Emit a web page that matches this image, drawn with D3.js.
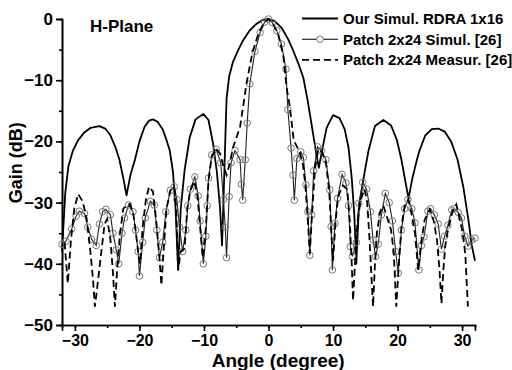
<!DOCTYPE html>
<html>
<head>
<meta charset="utf-8">
<script src="https://cdn.jsdelivr.net/npm/d3@7"></script>
<style>
    body { margin: 0; background: #fff; }
    svg { display: block; font-family: 'Liberation Sans', Arial, sans-serif; font-weight: bold; }
</style>
</head>
<body>
<svg></svg>
<script>
// series values: [angle (deg), gain (dB)]
var rdraData = [
    [-32, -38], [-31.5, -28.5], [-31, -24], [-30.3, -21.5], [-29.5, -19.8], [-28.6, -18.6], [-27.6, -17.8],
    [-26.2, -17.5], [-25.3, -17.9], [-24.5, -19], [-23.7, -21], [-23.1, -23], [-22.5, -26], [-22, -28.8],
    [-21.4, -25.5], [-20.7, -23], [-20, -20], [-19.2, -17.6], [-18.5, -16.6], [-17.9, -16.4], [-17.2, -16.8],
    [-16.4, -18], [-15.8, -19.8], [-15.3, -21.5], [-14.8, -25], [-14.4, -31], [-14, -41], [-13.6, -31],
    [-13, -24.7], [-12.2, -19.3], [-11.3, -16.4], [-10.1, -15.5], [-9.3, -16.5], [-8.6, -20.3], [-8, -25],
    [-7.5, -31], [-7.2, -37], [-6.9, -27], [-6.5, -13], [-6.1, -9.4], [-5.5, -7], [-4.7, -5.1], [-4, -3.6],
    [-3, -2], [-2, -0.9], [-1, -0.2], [0, 0], [1, -0.4], [2, -1.4], [3, -3.2], [3.8, -5.1], [4.6, -7.2],
    [5.4, -9.6], [6.1, -13.5], [6.9, -18.7], [7.4, -22], [7.8, -24.3], [8.3, -21.5], [9, -17.8], [10, -15.7],
    [11, -16.2], [11.8, -18], [12.4, -21], [12.9, -26], [13.3, -32], [13.6, -40], [14, -31], [14.5, -27.5],
    [14.9, -25], [15.5, -21.5], [16.5, -17.5], [17.8, -16.5], [19, -17.4], [19.9, -19.8], [20.6, -23],
    [21.2, -26.5], [21.7, -29.3], [22.3, -26], [23, -23], [23.4, -21.5], [24.3, -19], [25.3, -18],
    [26.3, -17.9], [27.3, -18.4], [28.3, -20], [29.3, -23], [30.2, -27.5], [31, -33], [31.5, -37], [32, -39.5]
]

var patchSimData = [
    [-32, -36.8], [-31.4, -36.3], [-30.5, -34.3], [-29.8, -32.2], [-29.3, -31.4], [-28.5, -31.8], [-28, -34],
    [-27.4, -36], [-26.7, -37], [-26.2, -33.5], [-25.7, -31.5], [-25.2, -31.1], [-24.5, -32], [-24.1, -35],
    [-23.6, -37.7], [-23.2, -40], [-22.7, -35], [-22.3, -32.5], [-21.7, -30.4], [-21, -31.5], [-20.6, -34.5],
    [-20.2, -38], [-20, -42], [-19.5, -36.5], [-19.1, -32.5], [-18.3, -29.8], [-17.7, -30.4], [-17.3, -34.5],
    [-16.9, -39], [-16.4, -36.5], [-15.9, -31.5], [-15.2, -28], [-14.6, -27.4], [-14.2, -29.5], [-13.8, -34],
    [-13.3, -38], [-12.8, -34.5], [-12.5, -30.5], [-12.1, -27.8], [-11.4, -25.8], [-10.9, -28.9], [-10.6, -33],
    [-10.1, -40], [-9.7, -35.5], [-9.5, -30.5], [-9.3, -26], [-8.8, -22.2], [-8.1, -21.3], [-7.4, -23.5],
    [-7, -29.5], [-6.7, -34], [-6.5, -39], [-6.1, -29], [-5.8, -23.5], [-5.2, -21.5], [-4.4, -23], [-4.2, -27],
    [-4, -29.6], [-3.6, -23], [-3.3, -17], [-2.9, -10.6], [-2.1, -5.3], [-1.3, -2.2], [-0.6, -0.5], [0, 0],
    [0.6, -0.6], [1.3, -1.9], [2, -4.1], [2.7, -8.2], [3, -14.8], [3.5, -21.1], [3.8, -25.5], [4, -29.6],
    [4.4, -22.8], [5, -21.7], [5.4, -22.6], [5.8, -27.1], [6.1, -31.5], [6.4, -38.6], [6.7, -32], [7, -24.8],
    [7.6, -20.9], [8.2, -21.5], [8.9, -23], [9.5, -27.9], [9.7, -33.9], [9.9, -41], [10.3, -33.4], [10.7, -29.3],
    [11.4, -25.4], [12, -26.8], [12.4, -30.5], [12.7, -37.2], [13, -38.8], [13.6, -36.5], [14, -30.1],
    [14.6, -26.7], [15.2, -27.8], [15.8, -31.5], [16.2, -36.1], [16.6, -38.8], [17, -36.8], [17.5, -32],
    [18.1, -28.5], [18.7, -30], [19.2, -33], [19.7, -38], [20.1, -41.5], [20.6, -34.5], [21.1, -31],
    [21.6, -29.5], [22.2, -31], [22.7, -33.3], [23.3, -41], [23.7, -37], [24.1, -35.6], [24.7, -31.4],
    [25.1, -31], [25.7, -32], [26.3, -33.5], [26.8, -37.6], [27.3, -35.5], [27.8, -33.7], [28.4, -31.2],
    [28.8, -31], [29.4, -31.6], [29.9, -32.5], [30.4, -35.5], [30.9, -37.1], [31.5, -36.1], [32, -35.8]
]

var patchMeasData = [
    [-31.6, -36.5], [-31.1, -43.2], [-30.6, -36], [-30.1, -31], [-29.5, -28.6], [-28.8, -29.8], [-28.2, -32.5],
    [-27.6, -38], [-27.2, -42.5], [-26.9, -47], [-26.5, -43.5], [-25.9, -38], [-25.4, -33.5], [-25, -32.7],
    [-24.5, -36], [-24.1, -41.5], [-23.8, -47], [-23.4, -40], [-23, -35], [-22.5, -31], [-22, -30.5],
    [-21.5, -30.2], [-21, -31.5], [-20.6, -34.5], [-20.2, -38], [-19.9, -40], [-19.5, -34], [-19, -29.5],
    [-18.5, -27.4], [-17.9, -28.2], [-17.4, -33], [-16.9, -39], [-16.6, -43.5], [-16.2, -37], [-15.8, -31],
    [-15.2, -28], [-14.6, -27.5], [-14.3, -31], [-14, -41], [-13.6, -38], [-13, -37.5], [-12.6, -31],
    [-12.1, -28], [-11.5, -26.5], [-11, -29], [-10.6, -34], [-10.2, -39], [-9.7, -34], [-9.3, -26.5],
    [-8.8, -22.5], [-8.1, -21.2], [-7.5, -22], [-7, -24], [-6.5, -25.5], [-6, -23.6], [-5.5, -21], [-5, -19.5],
    [-4.4, -17.6], [-3.4, -10.5], [-2.5, -5.5], [-1.5, -2.2], [-0.6, -0.5], [0, 0], [0.6, -0.6], [1.5, -2.5],
    [2.3, -6], [2.8, -11.2], [3.3, -14.3], [3.9, -19.8], [4.8, -21.7], [5.3, -23.5], [5.7, -27], [6.1, -33],
    [6.4, -38.3], [6.8, -31], [7.2, -24.5], [7.7, -21.3], [8.3, -21.8], [8.9, -23.5], [9.4, -28], [9.7, -34],
    [10, -39.5], [10.4, -33], [10.8, -29], [11.5, -27.2], [12.2, -27.8], [12.6, -33], [12.9, -40], [13.1, -46],
    [13.4, -40], [13.8, -33], [14.3, -29.5], [14.9, -27.8], [15.3, -30], [15.6, -35], [15.9, -41], [16.2, -47],
    [16.5, -40], [16.8, -35], [17.3, -31.5], [17.8, -30.5], [18.4, -32.5], [19, -34.5], [19.4, -38], [19.8, -47],
    [20.2, -40], [20.6, -34], [21.1, -30.5], [21.7, -29.5], [22.2, -32], [22.7, -35], [23.2, -41], [23.6, -37],
    [24.2, -32.8], [25, -31.1], [25.6, -33], [26.1, -36], [26.5, -41], [26.8, -46.5], [27.1, -41], [27.4, -37],
    [27.8, -34.5], [28.5, -31.5], [29.1, -30.3], [29.6, -32.5], [30.1, -35], [30.5, -38.5], [30.9, -47]
]

var xTicks = [-30, -20, -10, 0, 10, 20, 30]
var yTicks = [0, -10, -20, -30, -40, -50]
var legendLabels = ['Our Simul. RDRA 1x16', 'Patch 2x24 Simul. [26]', 'Patch 2x24 Measur. [26]']

var svgWidth = 512, svgHeight = 370
var margin = { top: 19, right: 37, bottom: 45, left: 62 }
var width = svgWidth - margin.left - margin.right
var height = svgHeight - margin.top - margin.bottom

var svg = d3.select('svg')
    .attr('width', svgWidth)
    .attr('height', svgHeight)

var g = svg.append('g')
    .attr('transform', 'translate(' + margin.left + ',' + margin.top + ')')

var x = d3.scaleLinear().domain([-32, 32]).range([0, width])
var y = d3.scaleLinear().domain([-50, 0]).range([height, 0])

// minor ticks first (every 5), then major ticks with labels
g.append('g')
    .attr('transform', 'translate(0,' + height + ')')
    .call(d3.axisBottom(x).tickValues(d3.range(-30, 31, 5)).tickSize(3).tickFormat(''))
g.append('g')
    .call(d3.axisLeft(y).tickValues(d3.range(-45, 0, 5)).tickSize(3).tickFormat(''))

var xAxis = g.append('g')
    .attr('transform', 'translate(0,' + height + ')')
    .call(d3.axisBottom(x).tickValues(xTicks).tickSize(6).tickPadding(4).tickFormat(d3.format('d')))
var yAxis = g.append('g')
    .call(d3.axisLeft(y).tickValues(yTicks).tickSize(6).tickPadding(3).tickFormat(d3.format('d')))

g.selectAll('.domain, .tick line')
    .attr('stroke', '#000')
    .attr('stroke-width', 1.6)
xAxis.selectAll('text').attr('font-size', 16).attr('font-weight', 'bold').attr('fill', '#000')
yAxis.selectAll('text').attr('font-size', 17).attr('font-weight', 'bold').attr('fill', '#000')

var line = d3.line()
    .x(function (d) { return x(d[0]) })
    .y(function (d) { return y(d[1]) })

// RDRA simulation
g.append('path')
    .datum(rdraData)
    .attr('fill', 'none')
    .attr('stroke', '#000')
    .attr('stroke-width', 1.8)
    .attr('stroke-linejoin', 'round')
    .attr('d', line)

// patch simulation, thin line with open circles
g.append('path')
    .datum(patchSimData)
    .attr('fill', 'none')
    .attr('stroke', '#222')
    .attr('stroke-width', 1.1)
    .attr('d', line)

g.selectAll('.mark')
    .data(patchSimData)
    .enter().append('circle')
    .attr('class', 'mark')
    .attr('cx', function (d) { return x(d[0]) })
    .attr('cy', function (d) { return y(d[1]) })
    .attr('r', 3.3)
    .attr('fill', 'none')
    .attr('stroke', '#777')
    .attr('stroke-width', 1)

// patch measurement, dashed
g.append('path')
    .datum(patchMeasData)
    .attr('fill', 'none')
    .attr('stroke', '#000')
    .attr('stroke-width', 1.8)
    .attr('stroke-dasharray', '7,4')
    .attr('d', line)

// titles
svg.append('text')
    .attr('x', 90)
    .attr('y', 32)
    .attr('font-size', 17)
    .text('H-Plane')

svg.append('text')
    .attr('transform', 'translate(22,' + (margin.top + y(-23.5)) + ') rotate(-90)')
    .attr('text-anchor', 'middle')
    .attr('font-size', 18)
    .text('Gain (dB)')

svg.append('text')
    .attr('x', margin.left + x(1.5))
    .attr('y', 367)
    .attr('text-anchor', 'middle')
    .attr('font-size', 19)
    .text('Angle (degree)')

// legend
var legend = svg.append('g')
    .attr('transform', 'translate(302,18.5)')

legendLabels.forEach(function (label, i) {
    var row = legend.append('g').attr('transform', 'translate(0,' + (i * 20.7) + ')')
    var sample = row.append('line')
        .attr('x1', 0).attr('x2', 36)
        .attr('stroke', '#000')
    if (i === 0) sample.attr('stroke-width', 1.8)
    if (i === 1) {
        sample.attr('stroke-width', 1.1)
        row.append('circle')
            .attr('cx', 18).attr('r', 3.3)
            .attr('fill', '#fff').attr('stroke', '#777')
    }
    if (i === 2) sample.attr('stroke-width', 1.8).attr('stroke-dasharray', '7,4')
    row.append('text')
        .attr('x', 41)
        .attr('y', 5.5)
        .attr('font-size', 15)
        .text(label)
})
</script>
</body>
</html>
